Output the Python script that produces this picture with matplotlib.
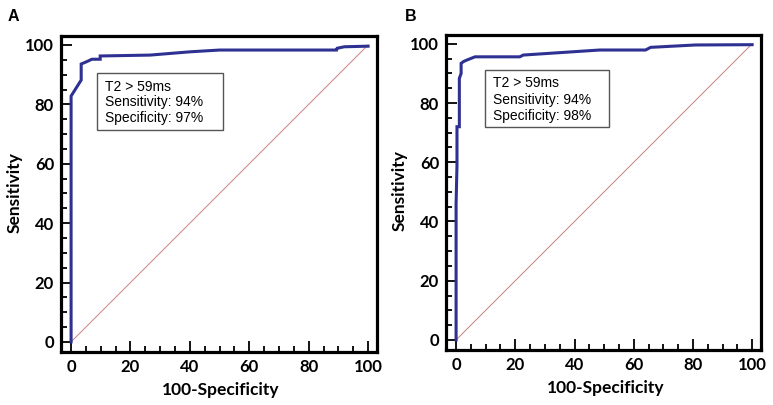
import matplotlib
matplotlib.use('Agg')
import matplotlib.pyplot as plt
from matplotlib.patches import Rectangle

# ROC curve A (100-specificity, sensitivity)
fpr_a = [0, 0, 3.4, 3.4, 5.3, 7.0, 9.8, 9.8, 26.6, 40, 50, 89.4, 89.6, 92, 100]
tpr_a = [0, 82.8, 88.2, 93.6, 94.4, 95.2, 95.2, 96.3, 96.6, 97.7, 98.3, 98.3, 98.9, 99.4, 99.6]

# ROC curve B
fpr_b = [0, 0, 0.3, 0.3, 1.1, 1.1, 1.7, 1.7, 2.5, 3.6, 6.4, 21.5, 22.7, 48.5, 64, 65.7, 80.8, 100]
tpr_b = [0, 45.8, 59, 72, 72, 88.3, 90, 93.4, 94, 94.5, 95.6, 95.6, 96.2, 97.9, 97.9, 98.8, 99.6, 99.7]

box_lines_a = ["T2 > 59ms", "Sensitivity: 94%", "Specificity: 97%"]
box_lines_b = ["T2 > 59ms", "Sensitivity: 94%", "Specificity: 98%"]
ticks = [0, 20, 40, 60, 80, 100]
diag = [0, 100]

fig = plt.figure(figsize=(7.73, 4.05), dpi=100)
ax_a = fig.add_axes([0.0789, 0.1309, 0.4088, 0.780])
ax_b = fig.add_axes([0.577, 0.1358, 0.4075, 0.778])

tick_font = dict(family='Lato', weight='bold', size=12)
label_font = dict(family='Lato', weight='bold', size=12.5)


def draw(ax, fpr, tpr, lines, box, text_x, text_y):
    ax.plot(diag, diag, color='#c98080', lw=0.7)
    ax.plot(fpr, tpr, color='#2e3192', lw=2.2, solid_joinstyle='miter')
    ax.set_xlim(-3.4, 103)
    ax.set_ylim(-3.4, 103)
    ax.set_xticks(ticks)
    ax.set_yticks(ticks)
    ax.set_xticks(range(0, 101, 5), minor=True)
    ax.set_yticks(range(0, 101, 5), minor=True)
    ax.tick_params(which='major', direction='in', length=8, width=1.3, pad=5)
    ax.tick_params(which='minor', direction='in', length=4.5, width=1.3)
    for lab in ax.get_xticklabels() + ax.get_yticklabels():
        lab.set_fontproperties(tick_font)
    for s in ax.spines.values():
        s.set_linewidth(2.3)
    ax.set_xlabel('100-Specificity', va='center', **label_font)
    ax.set_ylabel('Sensitivity', va='center', **label_font)
    ax.xaxis.set_label_coords(0.506, -0.12)
    ax.yaxis.set_label_coords(-0.146, 0.506)
    x0, y0, x1, y1 = box
    ax.add_patch(Rectangle((x0, y0), x1 - x0, y1 - y0, transform=ax.transAxes,
                           fill=False, edgecolor='#555555', lw=1))
    for line, ty in zip(lines, text_y):
        ax.text(text_x, ty, line, transform=ax.transAxes, va='center', ha='left',
                family='Liberation Sans', fontsize=10)


draw(ax_a, fpr_a, tpr_a, box_lines_a, (0.114, 0.703, 0.513, 0.883), 0.139, [0.839, 0.791, 0.741])
draw(ax_b, fpr_b, tpr_b, box_lines_b, (0.124, 0.708, 0.517, 0.889), 0.148, [0.846, 0.795, 0.744])

fig.text(8 / 773, 1 - 21 / 405, 'A', family='Liberation Sans', weight='bold', fontsize=11.5)
fig.text(405 / 773, 1 - 21 / 405, 'B', family='Liberation Sans', weight='bold', fontsize=11.5)

fig.savefig('out.png', dpi=100)
